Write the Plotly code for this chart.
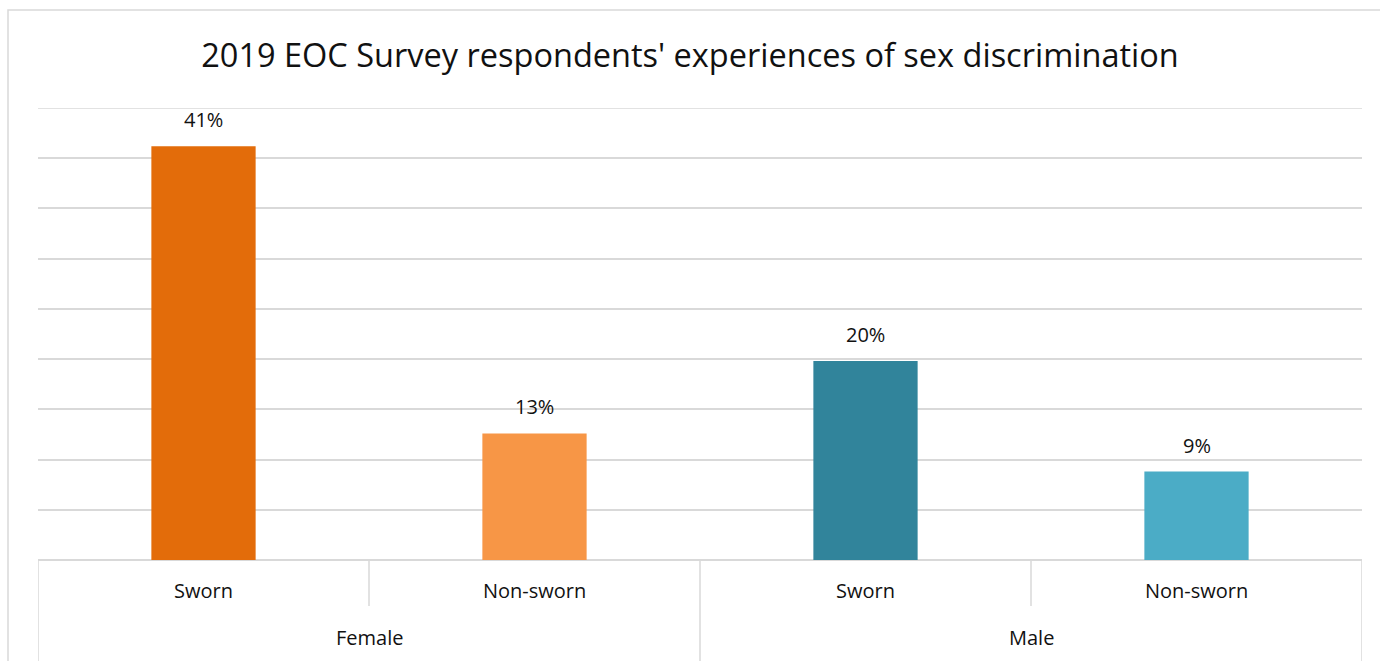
import plotly.graph_objects as go

groups = ["Female", "Male"]
sub_labels = ["Sworn", "Non-sworn", "Sworn", "Non-sworn"]
group_of = ["Female", "Female", "Male", "Male"]
values = [41.2, 12.6, 19.8, 8.8]
colors = ["#E36C0A", "#F79646", "#31849B", "#4BACC6"]
title_text = "2019 EOC Survey respondents' experiences of sex discrimination"
y_max = 45
y_step = 5

FONT = "Open Sans"
GRID = "#D9D9D9"
TXT = "#111111"

x = list(range(len(values)))

fig = go.Figure()
fig.add_trace(go.Bar(
    x=x, y=values, marker=dict(color=colors, line=dict(width=0)),
    width=0.315, hoverinfo="skip", showlegend=False,
))

annotations = []
for xi, v in zip(x, values):
    annotations.append(dict(x=xi, y=v, xref="x", yref="y", text=f"{round(v)}%",
                            showarrow=False, yanchor="bottom", yshift=11,
                            font=dict(family=FONT, size=20, color=TXT)))
for xi, s in zip(x, sub_labels):
    annotations.append(dict(x=xi, y=0, xref="x", yref="paper", text=s,
                            showarrow=False, yanchor="middle", yshift=-30,
                            font=dict(family=FONT, size=20, color=TXT)))
for g in groups:
    idx = [i for i, gg in enumerate(group_of) if gg == g]
    mid = sum(idx) / len(idx)
    annotations.append(dict(x=mid, y=0, xref="x", yref="paper", text=g,
                            showarrow=False, yanchor="middle", yshift=-77,
                            font=dict(family=FONT, size=20, color=TXT)))

plot_h = 661 - 108 - 101
shapes = []
# top gridline (plotly omits the gridline at the range edge)
shapes.append(dict(type="line", xref="paper", yref="y", x0=0, x1=1, y0=y_max, y1=y_max,
                   line=dict(color=GRID, width=1.5), layer="below"))
# dividers
bounds = [i - 0.5 for i in x] + [x[-1] + 0.5]
for b in bounds:
    is_outer = (b == bounds[0] or b == bounds[-1] or
                group_of[int(b - 0.5)] != group_of[int(b + 0.5)])
    depth = 101 if is_outer else 46
    shapes.append(dict(type="line", xref="x", yref="paper", x0=b, x1=b,
                       y0=0, y1=-depth / plot_h, line=dict(color=GRID, width=1.5)))
# chart border
shapes.append(dict(type="rect", xref="paper", yref="paper",
                   x0=(8 - 38) / 1324, x1=1.05, y0=-0.4, y1=(560 - 10) / plot_h,
                   line=dict(color=GRID, width=1.5), fillcolor="rgba(0,0,0,0)", layer="below"))

fig.update_layout(
    width=1380, height=661,
    margin=dict(l=38, r=18, t=108, b=101),
    paper_bgcolor="white", plot_bgcolor="white",
    title=dict(text=title_text, x=0.5, xanchor="center", y=1 - 56 / 661, yanchor="middle",
               font=dict(family=FONT, size=32.5, color=TXT)),
    xaxis=dict(range=[-0.5, 3.5], showticklabels=False, showgrid=False, zeroline=False,
               showline=False, ticks=""),
    yaxis=dict(range=[0, y_max], dtick=y_step, showticklabels=False, showgrid=True, gridcolor=GRID,
               gridwidth=1.5, zeroline=True, zerolinecolor=GRID, zerolinewidth=1.5,
               showline=False, ticks=""),
    annotations=annotations, shapes=shapes,
    font=dict(family=FONT),
)

fig.write_html("out.html")
